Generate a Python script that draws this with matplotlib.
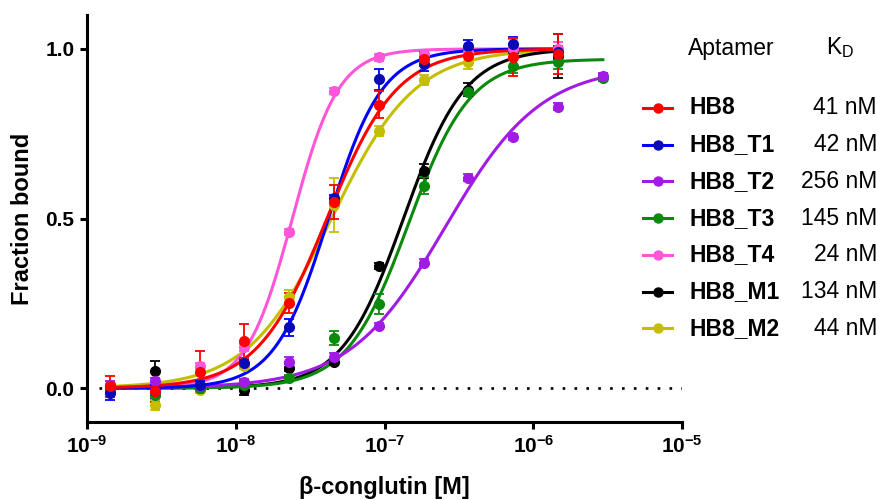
import numpy as np
import matplotlib
matplotlib.use("Agg")
import matplotlib.pyplot as plt
from matplotlib.lines import Line2D
from matplotlib.ticker import FixedLocator, NullLocator

plt.rcParams['font.family'] = ['Liberation Sans', 'DejaVu Sans']
plt.rcParams['mathtext.fontset'] = 'custom'
plt.rcParams['mathtext.rm'] = 'Liberation Sans'
plt.rcParams['mathtext.bf'] = 'Liberation Sans:bold'

# concentrations (M), 2-fold dilution series
conc = [1.43e-9, 2.86e-9, 5.72e-9, 1.14e-8, 2.29e-8, 4.58e-8, 9.16e-8,
        1.83e-7, 3.66e-7, 7.32e-7, 1.46e-6, 2.93e-6]

names = ["HB8", "HB8_T1", "HB8_T2", "HB8_T3", "HB8_T4", "HB8_M1", "HB8_M2"]
colors = ["#FF0000", "#0000FF", "#A21AE6", "#0A8A0A", "#FF55D8", "#000000", "#C4BE00"]
dot_colors = ["#FF0000", "#0A0AB4", "#A21AE6", "#0A8A0A", "#FF55D8", "#000000", "#C4BE00"]

# fraction bound (mean) and SD
hb8 = [0.005, -0.01, 0.048, 0.14, 0.25, 0.55, 0.835, 0.97, 0.98, 0.976, 0.985]
hb8_sd = [0.03, 0.03, 0.06, 0.05, 0.03, 0.05, 0.04, 0.02, 0.02, 0.055, 0.06]
t1 = [-0.015, -0.01, 0.01, 0.074, 0.18, 0.56, 0.91, 0.955, 1.01, 1.015, 0.99]
t1_sd = [0.02, 0.02, 0.01, 0.01, 0.025, 0.01, 0.03, 0.02, 0.015, 0.02, 0.02]
t2 = [0.01, 0.02, 0.005, 0.018, 0.077, 0.092, 0.183, 0.37, 0.62, 0.74, 0.83, 0.92]
t2_sd = [0.01, 0.01, 0.01, 0.01, 0.015, 0.01, 0.01, 0.01, 0.01, 0.01, 0.01, 0.01]
t3 = [-0.005, -0.02, 0.0, 0.01, 0.03, 0.148, 0.248, 0.597, 0.873, 0.95, 0.96, 0.915]
t3_sd = [0.01, 0.01, 0.01, 0.01, 0.01, 0.02, 0.03, 0.025, 0.01, 0.02, 0.02, 0.01]
t4 = [0.01, -0.02, 0.065, 0.12, 0.46, 0.876, 0.975, 0.985, 0.99, 1.0, 1.0]
t4_sd = [0.01, 0.01, 0.01, 0.01, 0.01, 0.01, 0.01, 0.01, 0.01, 0.03, 0.02]
m1 = [0.0, 0.05, 0.0, -0.005, 0.06, 0.077, 0.36, 0.64, 0.88, 0.995, 0.98]
m1_sd = [0.01, 0.03, 0.01, 0.015, 0.01, 0.01, 0.01, 0.02, 0.02, 0.02, 0.065]
m2 = [0.0, -0.05, -0.005, 0.065, 0.27, 0.54, 0.757, 0.908, 0.96, 0.99, 1.0]
m2_sd = [0.01, 0.015, 0.01, 0.01, 0.02, 0.08, 0.015, 0.015, 0.02, 0.02, 0.02]

values = [hb8, t1, t2, t3, t4, m1, m2]
errors = [hb8_sd, t1_sd, t2_sd, t3_sd, t4_sd, m1_sd, m2_sd]

# fit results: KD (nM), Hill slope, Bmax
kd_nm = [41, 42, 256, 145, 24, 134, 44]
hill = [1.85, 2.4, 1.35, 2.1, 2.8, 2.1, 1.55]
bmax = [1.0, 1.0, 0.95, 0.97, 1.0, 1.0, 1.0]

fig = plt.figure(figsize=(8.78, 5.0), dpi=100)
ax = fig.add_axes([0.099, 0.156, 0.678, 0.814])

ax.axhline(0, xmin=0.02, xmax=1, color="black", linestyle=(0, (1, 3.5)), linewidth=1.9, zorder=1)

n = len(names)
for i in reversed(range(n)):
    y = np.array(values[i])
    x = np.array(conc[:len(y)])
    xs = np.logspace(np.log10(x[0]), np.log10(x[-1]), 300)
    k = kd_nm[i] * 1e-9
    fit = bmax[i] * xs**hill[i] / (k**hill[i] + xs**hill[i])
    ax.plot(xs, fit, color=colors[i], linewidth=2.2, zorder=2 + (n - i) * 0.01)
    ax.errorbar(x, y, yerr=errors[i], fmt="o", color=colors[i], mfc=dot_colors[i],
                mec=dot_colors[i], markersize=7, elinewidth=1.3, capsize=3.5,
                capthick=1.3, zorder=3 + (n - i) * 0.01)

ax.set_xscale("log")
ax.set_xlim(1e-9, 1e-5)
ax.set_ylim(-0.1, 1.1)
ax.xaxis.set_major_locator(FixedLocator([1e-9, 1e-8, 1e-7, 1e-6, 1e-5]))
ax.xaxis.set_minor_locator(NullLocator())
ax.set_xticklabels([r"$\mathbf{10^{-9}}$", r"$\mathbf{10^{-8}}$", r"$\mathbf{10^{-7}}$",
                    r"$\mathbf{10^{-6}}$", r"$\mathbf{10^{-5}}$"])
ax.set_yticks([0, 0.5, 1.0])
ax.set_yticklabels(["0.0", "0.5", "1.0"], fontweight="bold")
ax.tick_params(axis="both", direction="out", length=5, width=2.2, labelsize=15, pad=4)

for s in ["top", "right"]:
    ax.spines[s].set_visible(False)
for s in ["left", "bottom"]:
    ax.spines[s].set_linewidth(2.2)

ax.set_xlabel("β-conglutin [M]", fontsize=17, fontweight="bold", labelpad=14)
ax.set_ylabel("Fraction bound", fontsize=17, fontweight="bold", labelpad=8)

# legend table
W, H = 878, 500
fig.text(688 / W, 1 - 48 / H, "Aptamer", fontsize=16.5, ha="left", va="center")
fig.text(840 / W, 1 - 48 / H, r"K$_\mathrm{D}$", fontsize=16.5, ha="center", va="center")
for i, name in enumerate(names):
    yc = 1 - (108 + 36.7 * i) / H
    fig.add_artist(Line2D([643 / W, 672 / W], [yc, yc], color=colors[i], linewidth=2.2,
                          transform=fig.transFigure))
    fig.add_artist(Line2D([658 / W], [yc], marker="o", markersize=6.5, color=dot_colors[i],
                          transform=fig.transFigure))
    fig.text(690 / W, yc, name, fontsize=16.5, fontweight="bold", ha="left", va="center")
    fig.text(877 / W, yc, f"{kd_nm[i]} nM", fontsize=16.5, ha="right", va="center")

fig.savefig("out.png", dpi=100)
